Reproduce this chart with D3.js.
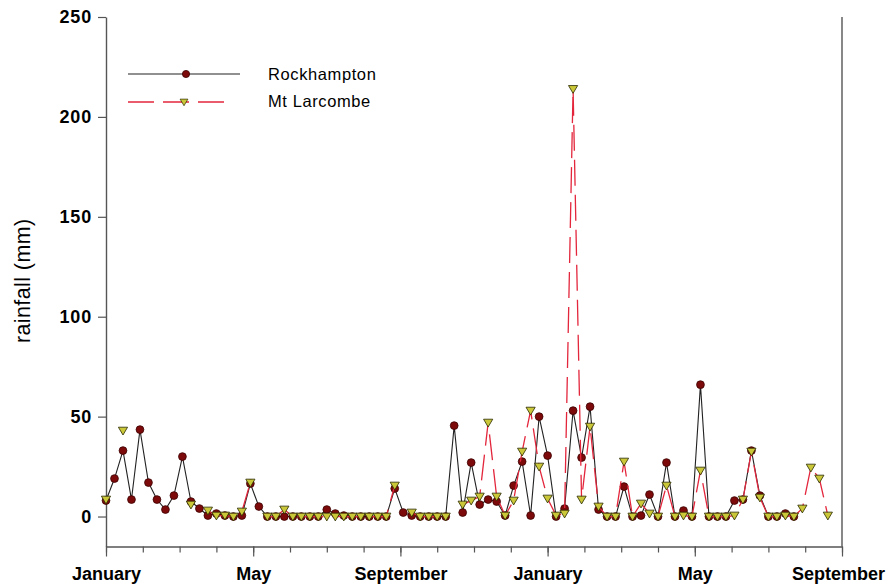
<!DOCTYPE html>
<html>
<head>
<meta charset="utf-8">
<script src="https://cdn.jsdelivr.net/npm/d3@7"></script>
<style>
  html, body { margin: 0; padding: 0; background: #fff; }
  svg { display: block; font-family: Arial, "Liberation Sans", sans-serif; }
</style>
</head>
<body>
<svg id="chart" width="890" height="586"></svg>
<script>
// Weekly rainfall (mm), week 0 = first week of January; null = no record
const rockhampton = [
  8, 19, 33, 8.5, 43.5, 17, 8.5, 3.5, 10.5, 30,
  7.5, 4, 0.5, 1.5, 0.5, 0, 0.5, 16.5, 5, 0,
  0, 0, 0, 0, 0, 0, 3.5, 1.5, 0.5, 0,
  0, 0, 0, 0, 14, 2, 0.5, 0, 0, 0,
  0, 45.5, 2, 27, 6, 8.5, 7.5, 0.5, 15.5, 27.5,
  0.5, 50, 30.5, 0, 4, 53, 29.5, 55, 3.5, 0,
  0, 15, 0, 0.5, 11, 0, 27, 0, 3, 0,
  66, 0, 0, 0, 8, 8.5, 33, 10.5, 0, 0,
  1.5, 0
];
const mtLarcombe = [
  8.5, null, 43, null, null, null, null, null, null, null,
  6, null, 3, 0.5, 0.5, 0, 2.5, 17, null, 0,
  0, 3.5, 0, 0, 0, 0, 0, 0, 0, 0,
  0, 0, 0, 0, 15.5, null, 2, 0, 0, 0,
  0, null, 6, 8, 10, 47, 10, 0.5, 8, 32.5,
  53, 25, 9, 0.5, 1.5, 214, 8.5, 45, 5, 0,
  0, 27.5, 0, 6.5, 1.5, 0, 15.5, 0, 0.5, 0,
  23, 0, 0, 0, 0.5, 8.5, 32.5, 9.5, 0, 0,
  0.5, 0, 4, 24.5, 19, 0.5
];

// Axis ticks: months counted from the first January
const monthTicks = d3.range(0, 21);
const labelMonths = [0, 4, 8, 12, 16, 20];
const monthLabels = ["January", "May", "September", "January", "May", "September"];
const yTicks = [0, 50, 100, 150, 200, 250];

const seriesNames = ["Rockhampton", "Mt Larcombe"];

const svg = d3.select("#chart");

const x = d3.scaleLinear().domain([0, 20]).range([106, 842]);
const y = d3.scaleLinear().domain([-15, 250]).range([546.5, 17]);

const weekToMonth = w => w * 12 / 52;

const axisColor = "#555";

// Right frame line
svg.append("line")
  .attr("x1", x(20)).attr("x2", x(20))
  .attr("y1", y(250)).attr("y2", y(-15))
  .attr("stroke", axisColor).attr("stroke-width", 1.4);

// Y axis
const yAxis = svg.append("g")
  .attr("transform", `translate(${x(0)},0)`)
  .call(d3.axisLeft(y).tickValues(yTicks).tickSize(8).tickSizeOuter(0).tickPadding(6));
yAxis.select(".domain").attr("stroke", axisColor).attr("stroke-width", 1.4);
yAxis.selectAll(".tick line").attr("stroke", axisColor).attr("stroke-width", 1.2);
yAxis.selectAll(".tick text")
  .attr("font-size", 18).attr("font-weight", "bold").attr("fill", "#000")
  .attr("font-family", "Arial, 'Liberation Sans', sans-serif")
  .style("letter-spacing", "0.8px");

// X axis: monthly minor ticks, labelled majors every four months
const xMinor = svg.append("g")
  .attr("transform", `translate(0,${y(-15)})`)
  .call(d3.axisBottom(x).tickValues(monthTicks).tickSize(6).tickSizeOuter(0).tickFormat(""));
xMinor.select(".domain").attr("stroke", axisColor).attr("stroke-width", 1.4);
xMinor.selectAll(".tick line").attr("stroke", axisColor).attr("stroke-width", 1.2);

const xMajor = svg.append("g")
  .attr("transform", `translate(0,${y(-15)})`)
  .call(d3.axisBottom(x).tickValues(labelMonths).tickSize(10).tickSizeOuter(0)
    .tickPadding(11)
    .tickFormat((d, i) => monthLabels[i]));
xMajor.select(".domain").remove();
xMajor.selectAll(".tick line").attr("stroke", axisColor).attr("stroke-width", 1.2);
xMajor.selectAll(".tick text")
  .attr("font-size", 18).attr("font-weight", "bold").attr("fill", "#000")
  .attr("font-family", "Arial, 'Liberation Sans', sans-serif");
// keep the last label inside the canvas edge
xMajor.selectAll(".tick text").filter((d, i) => i === labelMonths.length - 1)
  .attr("x", -4);

// Y axis title
svg.append("text")
  .attr("transform", `translate(30,${(y(0) + y(250)) / 2 + 14}) rotate(-90)`)
  .attr("text-anchor", "middle")
  .attr("font-size", 21.5)
  .attr("fill", "#000")
  .style("letter-spacing", "0.4px")
  .text("rainfall (mm)");

const line = d3.line()
  .defined(d => d.v !== null)
  .x(d => x(weekToMonth(d.w)))
  .y(d => y(d.v));

const rData = rockhampton.map((v, w) => ({ w, v }));
const mData = mtLarcombe.map((v, w) => ({ w, v }));

const triPath = "M-4.6,-3.4 L4.6,-3.4 L0,4.4 Z";
const circleFill = "#7d0a0a", circleStroke = "#3b0000";
const triFill = "#cac738", triStroke = "#2a2a00";
const redLine = "#e3263c";
const dash = "26,9";

// Rockhampton: solid line with circles
svg.append("path").datum(rData)
  .attr("fill", "none").attr("stroke", "#222").attr("stroke-width", 1.1)
  .attr("d", line);
svg.append("g").selectAll("circle")
  .data(rData.filter(d => d.v !== null)).join("circle")
  .attr("cx", d => x(weekToMonth(d.w)))
  .attr("cy", d => y(d.v))
  .attr("r", 3.9)
  .attr("fill", circleFill).attr("stroke", circleStroke).attr("stroke-width", 0.8);

// Mt Larcombe: dashed red line with downward triangles
svg.append("path").datum(mData)
  .attr("fill", "none").attr("stroke", redLine).attr("stroke-width", 1.3)
  .attr("stroke-dasharray", dash)
  .attr("d", line);
svg.append("g").selectAll("path")
  .data(mData.filter(d => d.v !== null)).join("path")
  .attr("d", triPath)
  .attr("transform", d => `translate(${x(weekToMonth(d.w))},${y(d.v)})`)
  .attr("fill", triFill).attr("stroke", triStroke).attr("stroke-width", 0.8);

// Legend
const legend = svg.append("g");
legend.append("line").attr("x1", 128).attr("x2", 240).attr("y1", 74).attr("y2", 74)
  .attr("stroke", "#222").attr("stroke-width", 1.1);
legend.append("circle").attr("cx", 186).attr("cy", 74).attr("r", 3.6)
  .attr("fill", circleFill).attr("stroke", circleStroke).attr("stroke-width", 0.8);
legend.append("line").attr("x1", 128).attr("x2", 232).attr("y1", 102).attr("y2", 102)
  .attr("stroke", redLine).attr("stroke-width", 1.3).attr("stroke-dasharray", dash);
legend.append("path").attr("d", triPath)
  .attr("transform", "translate(184,102) scale(0.85)")
  .attr("fill", triFill).attr("stroke", triStroke).attr("stroke-width", 0.8);
legend.selectAll("text.lbl").data(seriesNames).join("text")
  .attr("class", "lbl")
  .attr("x", 268)
  .attr("y", (d, i) => 80 + i * 27)
  .attr("font-size", 16.5)
  .attr("fill", "#000")
  .style("letter-spacing", "0.6px")
  .text(d => d);
</script>
</body>
</html>
